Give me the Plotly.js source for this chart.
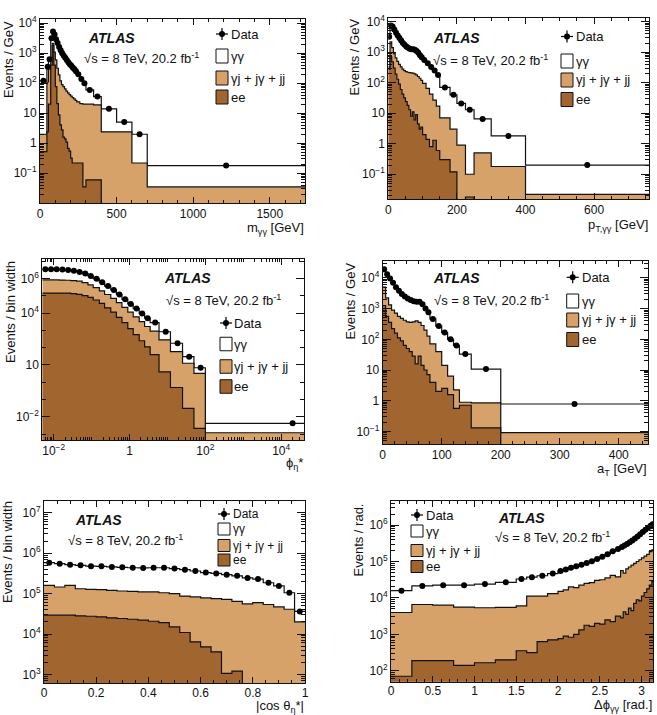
<!DOCTYPE html>
<html>
<head>
<meta charset="utf-8">
<script src="https://cdn.plot.ly/plotly-3.0.1.min.js"></script>
<style>
  html, body { margin: 0; padding: 0; background: #fff; }
  #chart { width: 657px; height: 715px; }
</style>
</head>
<body>
<div id="chart"></div>
<script>
// ---------- diphoton invariant mass m_γγ ----------
const mggEdges = [0,45,55,70,80,90,100,110,120,130,140,150,160,170,180,190,200,210,220,230,240,260,280,300,350,400,500,600,700,1730];
const mggData  = [120,355,630,3160,5250,4200,2900,2200,1600,1250,1000,830,700,590,500,430,380,330,290,250,200,138,100,60,36,14,5.1,2.0,0.18];
// upper edge of the γj + jγ + jj band (stacked on top of ee)
const mggJetsTop = [2,110,300,700,2150,1100,600,316,190,120,90,77,65,55,48,42,37,33,30,27,24,21,20,20,19,2.4,2.4,0.22,0.035];
const mggElec  = [0.53,2.4,20,400,1800,400,77,21,8.8,4.1,2.8,1.6,1.4,1.1,0.68,0.55,0.32,0.22,0.22,0.22,0.22,0.22,0.035,0.06,0.06,null,null,null,null];

// ---------- diphoton transverse momentum p_T,γγ ----------
const ptEdges = [0,5,10,15,20,25,30,35,40,45,50,55,60,65,70,75,80,85,90,95,100,110,120,130,140,150,180,200,225,250,300,400,760];
const ptData  = [3200,7500,7000,5500,4300,3500,2900,2400,2000,1750,1550,1400,1300,1250,1250,1200,1100,950,800,680,550,430,330,250,180,70,40,21,13,6.5,1.8,0.2];
const ptJetsTop = [330,2200,1400,900,650,500,400,330,280,250,230,220,215,210,205,195,180,160,140,120,95,65,42,27,17,7,3,0.9,0.1,0.5,0.18,0.022];
const ptElec  = [280,700,480,300,190,130,90,60,42,32,24,18,13,8,11,6,9,4.5,3,3.5,2,1.4,0.8,1.3,0.6,0.3,0.12,null,0.018,null,null,null];

// ---------- φ*_η ----------
const phiEdges = [0.005,0.007,0.01,0.014,0.02,0.028,0.04,0.056,0.08,0.11,0.16,0.22,0.32,0.45,0.63,0.9,1.25,1.8,2.5,3.5,6,12,25,50,100,40000];
const phiData  = [3.4e6,3.4e6,3.3e6,3.2e6,3.0e6,2.75e6,2.35e6,1.9e6,1.38e6,9.5e5,6.0e5,3.6e5,2.15e5,1.17e5,6.3e4,3.3e4,1.8e4,9300,5000,2800,830,180,30,6.9,0.0043];
const phiJetsTop = [813000,813000,813000,794000,776000,741000,692000,562000,417000,295000,191000,117000,69200,39800,21400,11200,6030,3160,1660,891,282,58.9,12.6,3.31,0.00123];
const phiElec  = [141000,141000,141000,141000,141000,132000,120000,100000,79400,56200,35500,20000,11200,5620,2820,1260,562,251,112,39.8,3.98,0.5,0.0316,0.0022,null];

// ---------- a_T ----------
const atEdges = [0,5,10,15,20,25,30,35,40,45,50,55,60,65,70,75,80,90,100,110,120,130,150,200,450];
const atData  = [19000,13200,9500,6900,5000,3800,3000,2500,2150,1900,1750,1660,1660,1380,1000,760,460,270,165,100,63,33,10.7,0.78];
const atJetsTop = [5010,2240,1320,891,708,562,479,417,372,355,372,398,355,282,200,126,70.8,39.8,14.1,6.31,2.24,0.89,0.85,0.091];
const atElec  = [1260,562,355,224,158,112,89.1,63.1,50.1,39.8,28.2,15.8,28.2,14.1,10,7.08,3.98,2.0,2.51,1.58,0.56,0.71,0.13,null];

// ---------- |cos θ*_η| ----------
const cosEdges = [0,0.04,0.08,0.12,0.16,0.2,0.24,0.28,0.32,0.36,0.4,0.44,0.48,0.52,0.56,0.6,0.64,0.68,0.72,0.76,0.8,0.84,0.88,0.92,0.96,1];
const cosData  = [582000,550000,520000,501000,479000,473000,457000,447000,437000,432000,437000,437000,417000,392000,363000,331000,316000,295000,275000,245000,229000,186000,155000,105000,36300];
const cosJetsTop = [160000,146000,160000,132000,127000,125000,120000,116000,114000,110000,110000,105000,100000,87100,82800,78200,75300,72400,64600,55600,60000,53700,46800,41000,20000];
const cosElec  = [29200,29200,29200,28100,27500,26500,25100,24200,23200,22000,20700,19200,15000,10900,6400,4830,3630,1060,1200,null,null,null,null,null,null];

// ---------- Δφ_γγ ----------
const dphiEdges = [0,0.25,0.5,0.75,1,1.25,1.5,1.625,1.75,1.875,2,2.0625,2.125,2.1875,2.25,2.3125,2.375,2.4375,2.5,2.5625,2.625,2.6875,2.75,2.78125,2.8125,2.84375,2.875,2.90625,2.9375,2.96875,3,3.03125,3.0625,3.09375,3.125,3.1416];
const dphiData  = [15800,21400,22400,22400,24000,26900,33100,37200,40700,46800,55000,60300,67600,74100,81300,91200,102000,117000,135000,158000,191000,219000,251000,275000,302000,339000,380000,427000,490000,562000,646000,741000,851000,955000,1050000];
const dphiJetsTop = [3980,6610,6310,5620,5370,5500,6030,11200,11200,13200,15100,16600,20000,19100,22400,25100,26300,30200,31600,35500,41700,38000,56200,47900,63100,70800,79400,89100,100000,112000,126000,141000,158000,186000,209000];
const dphiElec  = [70.8,191,191,141,166,200,355,316,631,708,759,891,832,1000,1320,1780,1660,2000,1910,2510,2240,3160,2820,4170,3550,5250,4470,7080,8910,8320,11200,14100,17800,22400,28200];

// ---------- styling ----------
const W = 657, H = 715;
const FONT = '"Liberation Sans", Arial, Helvetica, sans-serif';
const LIGHT = '#d7a26a';
const DARK = '#a1662f';
const INK = '#111111';

const px = v => v / W;          // pixel -> paper x
const py = v => 1 - v / H;      // pixel -> paper y

function logMinors(lo, hi) {
  const v = [];
  for (let k = lo; k <= hi; k++) for (let d = 2; d <= 9; d++) v.push(d * Math.pow(10, k));
  return v;
}
function decades(lo, hi) {
  const v = [];
  for (let k = lo; k <= hi; k++) v.push(Math.pow(10, k));
  return v;
}
function powLabel(n) {
  if (n === 0) return '1';
  if (n === 1) return '10';
  return '10<sup>' + (n < 0 ? '\u2212' + (-n) : n) + '</sup>';
}

const panels = [
  { edges: mggEdges, data: mggData, jets: mggJetsTop, elec: mggElec,
    box: [40, 305, 19, 203], xType: 'linear', xRange: [0, 1730],
    xTicks: [0, 500, 1000, 1500], xMinor: { dtick: 100, tick0: 0 },
    yRange: [-1.99, 4.14], yPow: [-1, 0, 1, 2, 3, 4], yMinor: logMinors(-2, 4),
    xTitle: 'm<sub>\u03b3\u03b3</sub> [GeV]', xTitleY: 228.5, xLabelShift: 0,
    yTitle: 'Events / GeV', yTitleX: 8.5, yTitleTop: 20,
    leg: { bx: 216, tx: 230, rows: [34, 56, 78, 97], bh: 14, size: 13 },
    atlas: [87, 38], energy: [83, 58] },
  { edges: ptEdges, data: ptData, jets: ptJetsTop, elec: ptElec,
    box: [388.3, 649, 18, 199.3], xType: 'linear', xRange: [0, 760],
    xTicks: [0, 200, 400, 600], xMinor: { dtick: 50, tick0: 0 },
    yRange: [-1.82, 4.12], yPow: [-1, 0, 1, 2, 3, 4], yMinor: logMinors(-2, 4),
    xTitle: 'p<sub>T,\u03b3\u03b3</sub> [GeV]', xTitleY: 225.5, xLabelShift: -1,
    yTitle: 'Events / GeV', yTitleX: 354, yTitleTop: 18,
    leg: { bx: 561, tx: 575, rows: [36.5, 61, 80, 99.5], bh: 14, size: 13 },
    atlas: [431.7, 38], energy: [431.7, 60] },
  { edges: phiEdges, data: phiData, jets: phiJetsTop, elec: phiElec,
    box: [42.3, 304, 259.3, 440], xType: 'log', xRange: [Math.log10(0.005), Math.log10(40000)],
    xTicks: [0.01, 1, 100, 10000], xText: [powLabel(-2), powLabel(0), powLabel(2), powLabel(4)],
    xMinor: { tickmode: 'array', tickvals: logMinors(-3, 4).concat(decades(-1, 3)) },
    yRange: [-3.33, 7.1], yPow: [-2, 1, 4, 6], yMinor: decades(-3, 7),
    xTitle: '\u03d5<sub>\u03b7</sub>*', xTitleY: 463, xLabelShift: 0,
    yTitle: 'Events / bin width', yTitleX: 10, yTitleTop: 260,
    leg: { bx: 220, tx: 233, rows: [323, 344, 366.5, 386.5], bh: 13.5, size: 13 },
    atlas: [163, 278], energy: [165, 300] },
  { edges: atEdges, data: atData, jets: atJetsTop, elec: atElec,
    box: [382.7, 648.3, 260.7, 444], xType: 'linear', xRange: [0, 450],
    xTicks: [0, 100, 200, 300, 400], xMinor: { dtick: 20, tick0: 0 },
    yRange: [-1.41, 4.56], yPow: [-1, 0, 1, 2, 3, 4], yMinor: logMinors(-2, 4),
    xTitle: 'a<sub>T</sub> [GeV]', xTitleY: 470, xLabelShift: 0,
    yTitle: 'Events / GeV', yTitleX: 350, yTitleTop: 262,
    leg: { bx: 566.7, tx: 580.5, rows: [277.3, 301, 320, 339.5], bh: 14, size: 13 },
    atlas: [432, 278], energy: [432.7, 300] },
  { edges: cosEdges, data: cosData, jets: cosJetsTop, elec: cosElec,
    box: [44, 305, 500.7, 683.3], xType: 'linear', xRange: [0, 1],
    xTicks: [0, 0.2, 0.4, 0.6, 0.8, 1], xText: ['0', '0.2', '0.4', '0.6', '0.8', '1'], xMinor: { dtick: 0.05, tick0: 0 },
    yRange: [2.78, 7.3], yPow: [3, 4, 5, 6, 7], yMinor: logMinors(2, 7),
    xTitle: '|cos \u03b8<sub>\u03b7</sub>*|', xTitleY: 706, xLabelShift: -2,
    yTitle: 'Events / bin width', yTitleX: 7, yTitleTop: 500,
    leg: { bx: 218, tx: 232, rows: [514, 529, 545.5, 560], bh: 12, size: 12 },
    atlas: [74, 520], energy: [66.7, 540] },
  { edges: dphiEdges, data: dphiData, jets: dphiJetsTop, elec: dphiElec,
    box: [391, 653.3, 500.7, 681.7], xType: 'linear', xRange: [0, 3.1416],
    xTicks: [0, 0.5, 1, 1.5, 2, 2.5, 3], xText: ['0', '0.5', '1', '1.5', '2', '2.5', '3'], xMinor: { dtick: 0.1, tick0: 0 },
    yRange: [1.7, 6.67], yPow: [2, 3, 4, 5, 6], yMinor: logMinors(1, 6),
    xTitle: '\u0394\u03d5<sub>\u03b3\u03b3</sub> [rad.]', xTitleY: 705.5, xLabelShift: -2,
    yTitle: 'Events / rad.', yTitleX: 358, yTitleTop: 503,
    leg: { bx: 411, tx: 424.5, rows: [515, 531, 550.5, 566.5], bh: 12, size: 13 },
    atlas: [497, 518], energy: [494, 537] }
];

// histogram outline as a step path over the bin edges
function steps(edges, vals) {
  const x = [], y = [];
  for (let i = 0; i < vals.length; i++) {
    x.push(edges[i]);
    y.push(vals[i] == null ? 1e-30 : vals[i]);
  }
  x.push(edges[edges.length - 1]);
  y.push(y[y.length - 1]);
  return { x, y };
}
function centers(edges) {
  return edges.slice(1).map((e, i) => (e + edges[i]) / 2);
}

const traces = [];
const layout = {
  width: W, height: H,
  margin: { l: 0, r: 0, t: 0, b: 0 },
  paper_bgcolor: '#fff', plot_bgcolor: '#fff',
  showlegend: false, hovermode: false,
  font: { family: FONT, color: INK },
  annotations: [], shapes: []
};

function note(x, y, text, opts) {
  return Object.assign({
    xref: 'paper', yref: 'paper', x: x, y: y, showarrow: false, borderpad: 0,
    text: text, font: { family: FONT, size: 13, color: INK }
  }, opts);
}

panels.forEach((p, i) => {
  const n = i + 1;
  const sfx = n === 1 ? '' : String(n);
  const xa = 'x' + sfx, ya = 'y' + sfx;

  const tickCommon = {
    ticks: 'inside', tickwidth: 1, tickcolor: INK,
    showline: true, linecolor: INK, linewidth: 1, mirror: 'ticks',
    showgrid: false, zeroline: false, fixedrange: true,
    tickfont: { family: FONT, size: 12, color: INK }, tickmode: 'array'
  };

  layout['xaxis' + sfx] = Object.assign({}, tickCommon, {
    domain: [px(p.box[0]), px(p.box[1])], anchor: ya, type: p.xType, range: p.xRange,
    tickvals: p.xTicks, ticktext: p.xText || p.xTicks.map(String), ticklen: 6,
    ticklabelstandoff: p.xLabelShift,
    minor: Object.assign({ ticks: 'inside', ticklen: 3, tickwidth: 1, tickcolor: INK }, p.xMinor)
  });
  layout['yaxis' + sfx] = Object.assign({}, tickCommon, {
    domain: [py(p.box[3]), py(p.box[2])], anchor: xa, type: 'log', range: p.yRange,
    tickvals: p.yPow.map(k => Math.pow(10, k)), ticktext: p.yPow.map(powLabel), ticklen: 8,
    minor: { ticks: 'inside', ticklen: 4, tickwidth: 1, tickcolor: INK, tickmode: 'array', tickvals: p.yMinor }
  });

  // stacked prediction: full stack (γγ on top), γj + jγ + jj, ee
  const layers = [
    { vals: p.data, fill: '#ffffff' },
    { vals: p.jets, fill: LIGHT },
    { vals: p.elec, fill: DARK }
  ];
  layers.forEach(l => {
    const s = steps(p.edges, l.vals);
    traces.push({
      type: 'scatter', mode: 'lines', x: s.x, y: s.y, xaxis: xa, yaxis: ya,
      line: { shape: 'hv', color: INK, width: 1.2, simplify: false },
      fill: 'tozeroy', fillcolor: l.fill
    });
  });

  traces.push({
    type: 'scatter', mode: 'markers', x: centers(p.edges), y: p.data, xaxis: xa, yaxis: ya,
    marker: { color: '#000', size: 6 }
  });

  // axis titles
  layout.annotations.push(note(px(p.yTitleX), py(p.yTitleTop), p.yTitle,
    { xanchor: 'center', yanchor: 'top', textangle: -90 }));
  layout.annotations.push(note(px(p.box[1]), py(p.xTitleY), p.xTitle,
    { xanchor: 'right', yanchor: 'middle' }));

  // ATLAS label
  layout.annotations.push(note(px(p.atlas[0]), py(p.atlas[1]), '<b><i>ATLAS</i></b>',
    { xanchor: 'left', yanchor: 'middle', font: { family: FONT, size: 14, color: INK } }));
  layout.annotations.push(note(px(p.energy[0]), py(p.energy[1]), '\u221as = 8 TeV, 20.2 fb<sup>-1</sup>',
    { xanchor: 'left', yanchor: 'middle' }));

  // legend
  const L = p.leg;
  const labels = ['Data', '\u03b3\u03b3', '\u03b3j + j\u03b3 + jj', 'ee'];
  labels.forEach((t, k) => {
    layout.annotations.push(note(px(L.tx), py(L.rows[k]), t,
      { xanchor: 'left', yanchor: 'middle', font: { family: FONT, size: L.size, color: INK } }));
  });
  const cx = L.bx + 6, cy = L.rows[0];
  layout.shapes.push(
    { type: 'line', xref: 'paper', yref: 'paper', x0: px(cx - 6), x1: px(cx + 6), y0: py(cy), y1: py(cy), line: { color: '#000', width: 1.2 } },
    { type: 'line', xref: 'paper', yref: 'paper', x0: px(cx), x1: px(cx), y0: py(cy - 6), y1: py(cy + 6), line: { color: '#000', width: 1.2 } },
    { type: 'circle', xref: 'paper', yref: 'paper', x0: px(cx - 3), x1: px(cx + 3), y0: py(cy + 3), y1: py(cy - 3), fillcolor: '#000', line: { color: '#000', width: 0 } }
  );
  ['#ffffff', LIGHT, DARK].forEach((c, k) => {
    const r = L.rows[k + 1];
    layout.shapes.push({
      type: 'rect', xref: 'paper', yref: 'paper',
      x0: px(L.bx), x1: px(L.bx + 12), y0: py(r + L.bh / 2), y1: py(r - L.bh / 2),
      fillcolor: c, line: { color: INK, width: 1 }
    });
  });
});

Plotly.newPlot('chart', traces, layout, { staticPlot: true, displayModeBar: false });
</script>
</body>
</html>
